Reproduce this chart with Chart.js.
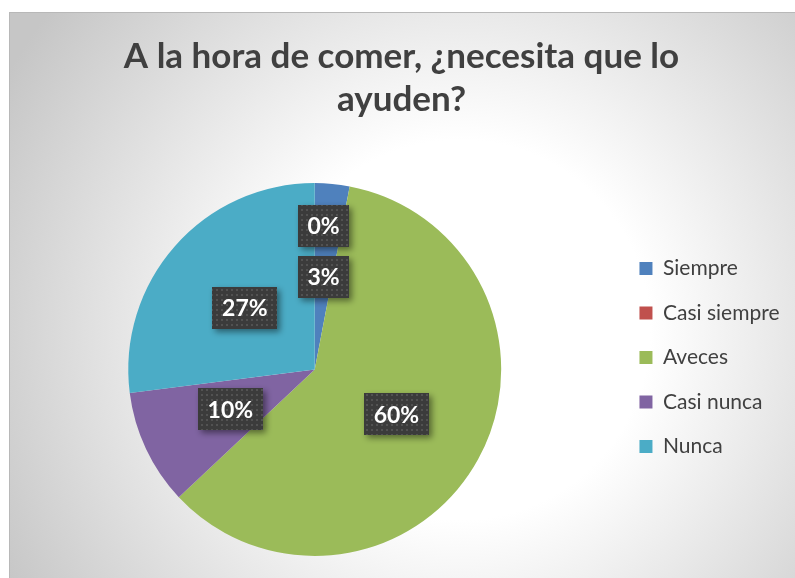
<!DOCTYPE html>
<html>
<head>
<meta charset="utf-8">
<script src="https://cdn.jsdelivr.net/npm/chart.js@4.4.1/dist/chart.umd.min.js"></script>
<style>
  html, body { margin: 0; padding: 0; background: #fff; overflow: hidden; }
  #box {
    position: absolute; left: 9px; top: 12px; width: 786px; height: 566px;
    border-left: 1px solid #b8b8b8; border-top: 1px solid #b8b8b8;
    background: radial-gradient(circle at 450px 317px, #ffffff 0, #ffffff 190px, #c6c6c6 520px);
  }
  canvas { display: block; }
</style>
</head>
<body>
<div id="box"><canvas id="chart" width="785" height="565"></canvas></div>
<script>
const categories = ['Siempre', 'Casi siempre', 'Aveces', 'Casi nunca', 'Nunca'];
const percentages = [3, 0, 60, 10, 27];
const sliceColors = ['#4f81bd', '#c0504d', '#9bbb59', '#8064a2', '#4bacc6'];

// dotted dark fill used by the data labels
const makeDots = () => {
  const c = document.createElement('canvas');
  c.width = 5; c.height = 5;
  const g = c.getContext('2d');
  g.fillStyle = '#3b3b3b';
  g.fillRect(0, 0, 5, 5);
  g.fillStyle = '#525252';
  g.fillRect(1, 1, 2, 2);
  return c;
};

// boxed percentage labels, stacked upward when two collide
const labelBoxes = {
  id: 'labelBoxes',
  afterDatasetsDraw(chart) {
    const ctx = chart.ctx;
    const arcs = chart.getDatasetMeta(0).data;
    const pattern = ctx.createPattern(makeDots(), 'repeat');
    ctx.save();
    ctx.font = 'bold 23px Lato';
    const placed = [];
    arcs.forEach((arc, i) => {
      const text = percentages[i] + '%';
      const p = arc.tooltipPosition();
      const w = Math.round(ctx.measureText(text).width + 19);
      const h = 42;
      const box = { x: p.x - w / 2, y: p.y - h / 2, w, h, text };
      placed.forEach(o => {
        const hit = box.x < o.x + o.w && o.x < box.x + box.w && box.y < o.y + o.h && o.y < box.y + box.h;
        if (hit) {
          box.x = o.x + o.w / 2 - w / 2;
          box.y = o.y - 9 - h;
        }
      });
      placed.push(box);
    });
    placed.forEach(b => {
      ctx.save();
      ctx.shadowColor = 'rgba(0,0,0,0.45)';
      ctx.shadowBlur = 6;
      ctx.shadowOffsetX = 3;
      ctx.shadowOffsetY = 3;
      ctx.fillStyle = pattern;
      ctx.fillRect(Math.round(b.x), Math.round(b.y), b.w, b.h);
      ctx.restore();
      ctx.fillStyle = '#ffffff';
      ctx.textAlign = 'center';
      ctx.textBaseline = 'middle';
      ctx.fillText(b.text, b.x + b.w / 2, b.y + b.h / 2 + 1);
    });
    ctx.restore();
  }
};

new Chart(document.getElementById('chart'), {
  type: 'pie',
  data: {
    labels: categories,
    datasets: [{
      data: percentages,
      backgroundColor: sliceColors,
      borderWidth: 0
    }]
  },
  options: {
    responsive: false,
    animation: false,
    layout: { padding: { left: 3.5, right: 5.5, top: 0, bottom: 22 } },
    plugins: {
      title: {
        display: true,
        text: ['A la hora de comer, ¿necesita que lo', 'ayuden?'],
        color: '#404040',
        font: { family: 'Lato', size: 35, weight: 'bold', lineHeight: 1.23 },
        padding: { top: 22, bottom: 62 }
      },
      legend: {
        position: 'right',
        align: 'start',
        fullSize: false,
        title: { display: true, text: '', font: { size: 12, lineHeight: 1.2 }, padding: { top: 37, bottom: 0 } },
        labels: {
          boxWidth: 13,
          boxHeight: 13,
          padding: 23.5,
          color: '#404040',
          font: { family: 'Lato', size: 21 }
        }
      },
      tooltip: { enabled: false }
    }
  },
  plugins: [labelBoxes]
});
</script>
</body>
</html>
